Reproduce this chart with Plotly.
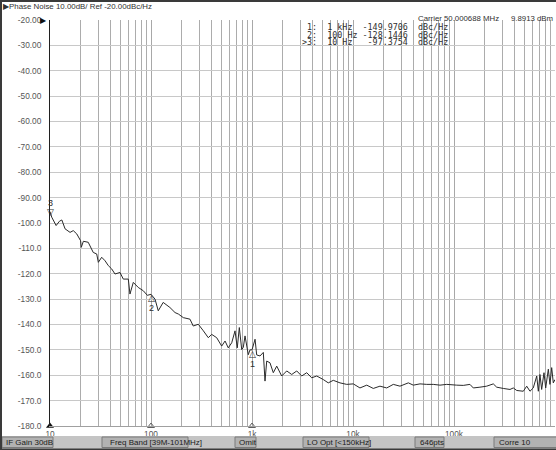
import numpy as np
import plotly.graph_objects as go

# ---------------- data ----------------
freq_hz = [10.0, 10.4, 11.5, 12.4, 13.1, 14.1, 15.8, 17.0, 18.4, 20.1, 20.4, 21.4, 23.9,
           26.8, 29.0, 30.1, 32.5, 35.1, 37.8, 40.8, 44.0, 49.3, 53.2, 59.6, 61.9, 66.8,
           74.8, 83.9, 92.0, 100.0, 109.6, 118, 132, 154, 173, 187, 209, 243, 262, 294,
           330, 369, 399, 447, 501, 541, 582, 630, 679, 715, 749, 791, 820, 853, 919, 955,
           1000, 1072, 1113, 1200, 1294, 1345, 1399, 1507, 1625, 1757, 1968, 2207, 2473,
           2773, 3105, 3483, 3899, 4375, 5082, 5689, 6383, 7430, 8670, 10070, 11720, 13680,
           15880, 18490, 21580, 25060, 29180, 31480, 35310, 39550, 46050, 53700, 62370,
           72630, 84700, 106400, 123600, 143900, 155300, 180700, 210900, 244900, 264800,
           307700, 358300, 386500, 417800, 485300, 524800, 565000, 609500, 659200, 683900,
           709600, 738000, 778000, 809000, 859000, 891000, 927000, 962000, 1000000]
noise_dbc = [-95.5, -97.7, -101.0, -99.3, -98.8, -102.3, -103.7, -103.0, -104.3, -107.0,
             -109.6, -107.2, -107.6, -111.6, -112.2, -115.5, -113.5, -114.9, -116.8, -118.1,
             -120.1, -119.5, -122.1, -122.1, -128.0, -123.4, -125.4, -126.7, -128.5, -128.1,
             -130.0, -134.6, -131.3, -133.3, -135.3, -135.9, -137.3, -137.9, -140.6, -139.9,
             -142.5, -145.2, -143.9, -145.2, -148.5, -146.5, -149.2, -147.2, -142.5, -149.2,
             -141.2, -149.9, -149.0, -144.5, -151.9, -150.0, -150.0, -145.8, -152.0, -152.4,
             -151.0, -162.3, -154.4, -155.1, -159.0, -156.4, -160.3, -158.3, -159.7, -158.3,
             -160.3, -159.0, -161.0, -160.3, -161.7, -163.0, -162.0, -163.0, -163.6, -163.4,
             -165.0, -163.9, -165.2, -164.3, -165.0, -163.6, -164.3, -163.9, -163.0, -163.9,
             -163.4, -163.6, -163.6, -163.9, -163.6, -163.9, -164.0, -163.6, -165.0, -164.7,
             -164.3, -163.4, -164.7, -165.2, -165.6, -165.0, -166.0, -166.3, -164.3, -166.3,
             -165.0, -160.3, -166.3, -159.7, -165.6, -159.0, -165.0, -157.6, -163.6, -157.0,
             -163.0, -161.7]

marker_ids = ["1", "2", "3"]
marker_freq = [1000.0, 100.0, 10.0]
marker_freq_text = ["1 kHz", "100 Hz", "10 Hz"]
marker_val = [-149.9706, -128.1446, -97.3754]

x_tickvals = [10, 100, 1000, 10000, 100000, 1000000]
x_ticktext = ["10", "100", "1k", "10k", "100k", "1M"]
y_tickvals = list(range(-20, -181, -10))
y_ticktext = ["-20.00", "-30.00", "-40.00", "-50.00", "-60.00", "-70.00", "-80.00",
              "-90.00", "-100.0", "-110.0", "-120.0", "-130.0", "-140.0", "-150.0",
              "-160.0", "-170.0", "-180.0"]
minor_vals = [m * d for d in [10, 100, 1000, 10000, 100000] for m in range(2, 10)]

status_items = ["IF Gain 30dB", "Freq Band [39M-101MHz]", "Omit", "LO Opt [<150kHz]",
                "646pts", "Corre 10"]

# ---------------- geometry helpers (pixel -> paper) ----------------
W, H = 556, 450
L, R, T, B = 50, 555, 20, 426


def px(x):
    return (x - L) / (R - L)


def py(y):
    return (B - y) / (B - T)


SANS = "Liberation Sans"
MONO = "DejaVu Sans Mono"
TXT = "#303030"

fig = go.Figure()
fig.add_trace(go.Scatter(x=freq_hz, y=noise_dbc, mode="lines",
                         line=dict(color="#2a2a2a", width=1), hoverinfo="skip",
                         showlegend=False))

# marker indicators on the x axis
fig.add_trace(go.Scatter(x=[marker_freq[2]], y=[-180], mode="markers",
                         marker=dict(symbol="triangle-up", size=7, color="#101010"),
                         cliponaxis=False, showlegend=False, hoverinfo="skip"))
fig.add_trace(go.Scatter(x=marker_freq[:2], y=[-180, -180], mode="markers",
                         marker=dict(symbol="triangle-up-open", size=6, color="#606060",
                                     line=dict(width=1)),
                         cliponaxis=False, showlegend=False, hoverinfo="skip"))

ann = []
# trace markers
for mid, f, v in zip(marker_ids, marker_freq, marker_val):
    lx = np.log10(f)
    if mid == "3":
        ann.append(dict(x=lx, y=v, text="▽", showarrow=False, yshift=4,
                        font=dict(family="DejaVu Sans", size=9, color=TXT)))
        ann.append(dict(x=lx, y=v, text=mid, showarrow=False, yshift=13,
                        font=dict(family=SANS, size=9, color=TXT)))
    else:
        ann.append(dict(x=lx, y=v, text="△", showarrow=False, yshift=-4,
                        font=dict(family="DejaVu Sans", size=9, color=TXT)))
        ann.append(dict(x=lx, y=v, text=mid, showarrow=False, yshift=-14,
                        font=dict(family=SANS, size=9, color=TXT)))

# marker table
rows_y = [27.5, 35, 42.5]
for i, (mid, ft, v) in enumerate(zip(marker_ids, marker_freq_text, marker_val)):
    prefix = ">" if mid == "3" else " "
    line = f"{prefix}{mid}:  {ft:<6} {v:>9.4f}  dBc/Hz"
    ann.append(dict(x=px(300), y=py(rows_y[i]), xref="paper", yref="paper",
                    xanchor="left", yanchor="middle", showarrow=False,
                    text=line.replace(" ", "&nbsp;"),
                    font=dict(family=MONO, size=8.4, color=TXT)))

ann.append(dict(x=px(416), y=py(18.5), xref="paper", yref="paper", xanchor="left",
                yanchor="middle", showarrow=False, text="Carrier 50.000688 MHz",
                font=dict(family=SANS, size=7.8, color=TXT)))
ann.append(dict(x=px(509), y=py(18.5), xref="paper", yref="paper", xanchor="left",
                yanchor="middle", showarrow=False, text="9.8913 dBm",
                font=dict(family=SANS, size=7.8, color=TXT)))
ann.append(dict(x=px(1), y=py(6.5), xref="paper", yref="paper", xanchor="left",
                yanchor="middle", showarrow=False,
                text="▶Phase Noise 10.00dB/ Ref -20.00dBc/Hz",
                font=dict(family=SANS, size=7.9, color=TXT)))
ann.append(dict(x=px(49), y=-20, xref="paper", yref="y", xanchor="right",
                yanchor="middle", showarrow=False, text="▶",
                font=dict(family="DejaVu Sans", size=8, color="#101010")))

# status bar
shapes = [
    dict(type="rect", xref="paper", yref="paper", x0=px(0), x1=px(556), y0=py(449),
         y1=py(436), fillcolor="#c4c4c4", line=dict(width=0), layer="above"),
]
boxes = [(2, 53), (102, 188), (235, 256), (303, 369), (415, 444), (494, 557)]
text_x = [4, 108, 237, 305, 418, 497]
for (x0, x1), tx, label in zip(boxes, text_x, status_items):
    shapes.append(dict(type="rect", xref="paper", yref="paper", x0=px(x0), x1=px(x1),
                       y0=py(447.5), y1=py(437), fillcolor="#b2b2b2",
                       line=dict(color="#7a7a7a", width=1), layer="above"))
    ann.append(dict(x=px(tx), y=py(442.5), xref="paper", yref="paper", xanchor="left",
                    yanchor="middle", showarrow=False, text=label,
                    font=dict(family=SANS, size=8, color="#202020")))

# outer frame lines
shapes.append(dict(type="rect", xref="paper", yref="paper", x0=px(0), x1=px(556),
                   y0=py(2), y1=py(0), fillcolor="#3a3a3a", line=dict(width=0)))
shapes.append(dict(type="rect", xref="paper", yref="paper", x0=px(0), x1=px(2),
                   y0=py(450), y1=py(0), fillcolor="#3a3a3a", line=dict(width=0)))
shapes.append(dict(type="rect", xref="paper", yref="paper", x0=px(0), x1=px(556),
                   y0=py(450), y1=py(448.5), fillcolor="#3a3a3a", line=dict(width=0)))

fig.update_layout(
    width=W, height=H,
    margin=dict(l=L, r=W - R, t=T, b=H - B, pad=0),
    paper_bgcolor="white", plot_bgcolor="white",
    showlegend=False,
    annotations=ann, shapes=shapes,
    xaxis=dict(type="log", range=[1, 6], tickvals=x_tickvals, ticktext=x_ticktext,
               showgrid=True, gridcolor="#a8a8a8", gridwidth=1,
               minor=dict(tickvals=minor_vals, showgrid=True, gridcolor="#acacac",
                          gridwidth=1, ticks=""),
               showline=True, linecolor="#a0a0a0", linewidth=1, ticks="",
               zeroline=False, tickfont=dict(family=SANS, size=8.3, color="#555555"),
               fixedrange=True),
    yaxis=dict(range=[-180, -20], tickvals=y_tickvals, ticktext=y_ticktext,
               showgrid=True, gridcolor="#c8c8c8", gridwidth=1,
               showline=True, linecolor="#202020", linewidth=1, ticks="",
               zeroline=False, ticklabelstandoff=6,
               tickfont=dict(family=SANS, size=8.3, color="#555555"),
               fixedrange=True),
)

fig.write_html("out.html", config={"displayModeBar": False},
               post_script="document.body.style.margin='0px';document.body.style.padding='0px';")
